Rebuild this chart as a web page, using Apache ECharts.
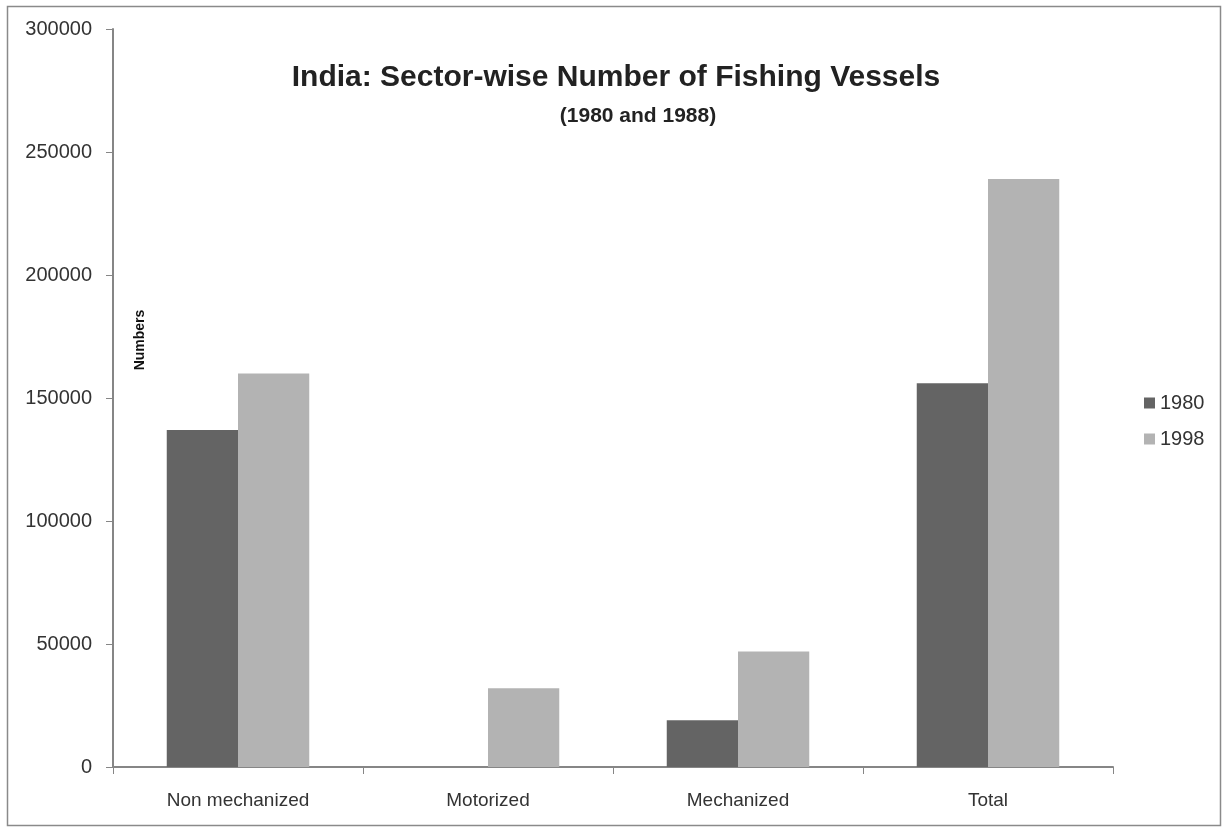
<!DOCTYPE html>
<html>
<head>
<meta charset="utf-8">
<script src="https://cdn.jsdelivr.net/npm/echarts@6/dist/echarts.min.js"></script>
<style>
  html, body { margin: 0; padding: 0; background: #fff; }
  #chart { width: 1224px; height: 830px; }
</style>
</head>
<body>
<div id="chart"></div>
<script>
// 数据
const categories = ['Non mechanized', 'Motorized', 'Mechanized', 'Total'];
const vessels1980 = [137000, 0, 19000, 156000];
const vessels1998 = [160000, 32000, 47000, 239000];
const yTicks = [0, 50000, 100000, 150000, 200000, 250000, 300000];

const baseFont = '"Liberation Sans", Arial, sans-serif';
const chart = echarts.init(document.getElementById('chart'));

const option = {
  animation: false,
  title: [
    {
      text: 'India: Sector-wise Number of Fishing Vessels',
      left: 611,
      top: 58,
      textAlign: 'center',
      textStyle: { fontFamily: baseFont, fontSize: 30, fontWeight: 'bold', color: '#222' }
    },
    {
      text: '(1980 and 1988)',
      left: 633,
      top: 101,
      textAlign: 'center',
      textStyle: { fontFamily: baseFont, fontSize: 21, fontWeight: 'bold', color: '#222' }
    }
  ],
  legend: {
    orient: 'vertical',
    left: 1139,
    top: 388,
    itemWidth: 11,
    itemHeight: 11,
    itemGap: 16,
    icon: 'rect',
    textStyle: { fontFamily: baseFont, fontSize: 20, color: '#333' },
    data: ['1980', '1998']
  },
  grid: {
    left: 113,
    right: 111,
    top: 29,
    bottom: 63
  },
  xAxis: {
    type: 'category',
    data: categories,
    axisLine: { lineStyle: { color: '#868686', width: 2 } },
    axisTick: { show: true, length: 7, lineStyle: { color: '#868686', width: 1 } },
    axisLabel: { fontFamily: baseFont, fontSize: 19, color: '#333', margin: 24 }
  },
  yAxis: {
    type: 'value',
    min: yTicks[0],
    max: yTicks[yTicks.length - 1],
    interval: 50000,
    axisLine: { show: true, lineStyle: { color: '#868686', width: 2 } },
    axisTick: { show: true, length: 7, lineStyle: { color: '#868686' } },
    splitLine: { show: false },
    axisLabel: {
      fontFamily: baseFont,
      fontSize: 20,
      color: '#333',
      margin: 21,
      formatter: v => String(v)
    }
  },
  series: [
    {
      name: '1980',
      type: 'bar',
      data: vessels1980,
      itemStyle: { color: '#646464' },
      barGap: '0%',
      barCategoryGap: '43%'
    },
    {
      name: '1998',
      type: 'bar',
      data: vessels1998,
      itemStyle: { color: '#b3b3b3' },
      barGap: '0%',
      barCategoryGap: '43%'
    }
  ],
  graphic: [
    {
      type: 'rect',
      shape: { x: 7.5, y: 6.5, width: 1213, height: 819 },
      style: { fill: 'none', stroke: '#8a8a8a', lineWidth: 1.5 },
      silent: true
    },
    {
      // 纵轴名称
      type: 'text',
      x: 140,
      y: 340,
      rotation: Math.PI / 2,
      style: {
        text: 'Numbers',
        font: 'bold 14px "Liberation Sans", Arial, sans-serif',
        fill: '#111',
        align: 'center',
        verticalAlign: 'middle'
      },
      silent: true
    }
  ]
};

chart.setOption(option);
</script>
</body>
</html>
